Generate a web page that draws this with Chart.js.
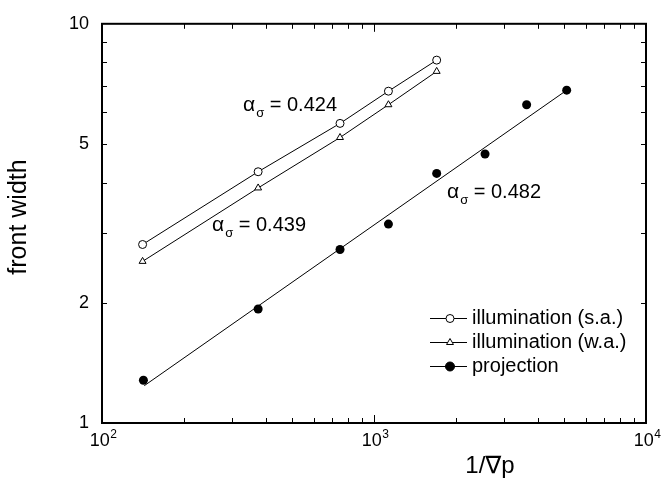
<!DOCTYPE html>
<html>
<head>
<meta charset="utf-8">
<script src="https://cdn.jsdelivr.net/npm/chart.js@4.4.0/dist/chart.umd.min.js"></script>
<style>
  html, body { margin: 0; background: #fff; }
  #wrap { width: 661px; height: 486px; position: relative; }
</style>
</head>
<body>
<div id="wrap"><canvas id="chart"></canvas></div>
<script>
// data (log-log axes)
const saX = [141, 375, 750, 1130, 1700];
const saWidth = [2.80, 4.26, 5.63, 6.78, 8.11];
const waX = [141, 375, 750, 1130, 1700];
const waWidth = [2.54, 3.88, 5.19, 6.27, 7.60];
const projX = [142, 375, 750, 1130, 1700, 2560, 3640, 5110];
const projWidth = [1.28, 1.93, 2.72, 3.15, 4.22, 4.72, 6.27, 6.82];
const projFitX = [143, 5130];
const projFitWidth = [1.24, 6.83];

const xDecades = [2, 3, 4];          // tick labels 10^2, 10^3, 10^4
const yTickLabels = [1, 2, 5, 10];
const legendLabels = ["illumination (s.a.)", "illumination (w.a.)", "projection"];
const slopeLabels = ["0.424", "0.439", "0.482"];

const FONT = "'Liberation Sans', Arial, 'DejaVu Sans', sans-serif";

function pts(xs, ys) {
  return xs.map(function (x, i) { return { x: x, y: ys[i] }; });
}

// frame, inward ticks, labels, legend and slope notes
const decorPlugin = {
  id: "decor",
  afterDraw: function (chart) {
    const ctx = chart.ctx;
    const a = chart.chartArea;
    const xs = chart.scales.x;
    const ys = chart.scales.y;
    ctx.save();
    ctx.strokeStyle = "#000";
    ctx.fillStyle = "#000";

    // frame
    ctx.lineWidth = 2;
    ctx.strokeRect(a.left, a.top, a.right - a.left, a.bottom - a.top);

    // inward ticks
    ctx.lineWidth = 1;
    ctx.beginPath();
    [100, 1000].forEach(function (d) {
      for (let k = 1; k <= 9; k++) {
        const px = Math.round(xs.getPixelForValue(d * k)) + 0.5;
        const len = k === 1 ? 8 : 5;
        ctx.moveTo(px, a.bottom); ctx.lineTo(px, a.bottom - len);
        ctx.moveTo(px, a.top); ctx.lineTo(px, a.top + len);
      }
    });
    for (let k = 1; k <= 9; k++) {
      const py = Math.round(ys.getPixelForValue(k)) + 0.5;
      const len = k === 1 ? 8 : 5;
      ctx.moveTo(a.left, py); ctx.lineTo(a.left + len, py);
      ctx.moveTo(a.right, py); ctx.lineTo(a.right - len, py);
    }
    ctx.stroke();

    // x tick labels 10^n
    ctx.textBaseline = "alphabetic";
    xDecades.forEach(function (e) {
      const px = xs.getPixelForValue(Math.pow(10, e));
      ctx.font = "18px " + FONT;
      const wb = ctx.measureText("10").width;
      ctx.font = "12px " + FONT;
      const we = ctx.measureText(String(e)).width;
      const x0 = px - (wb + we) / 2 + 1;
      ctx.font = "18px " + FONT;
      ctx.textAlign = "left";
      ctx.fillText("10", x0, a.bottom + 23);
      ctx.font = "12px " + FONT;
      ctx.fillText(String(e), x0 + wb + 0.5, a.bottom + 15);
    });

    // axis titles
    ctx.font = "24px " + FONT;
    ctx.textAlign = "center";
    ctx.textBaseline = "middle";
    ctx.fillText("1/\u2207p", 490, 466);
    ctx.save();
    ctx.translate(19, 217);
    ctx.rotate(-Math.PI / 2);
    ctx.font = "25px " + FONT;
    ctx.fillText("front width", 0, 0);
    ctx.restore();

    // slope notes
    const notes = [[243, 111], [212, 231], [447, 198]];
    notes.forEach(function (p, i) {
      let x = p[0];
      ctx.textAlign = "left";
      ctx.textBaseline = "alphabetic";
      ctx.font = "21px " + FONT;
      ctx.fillText("\u03b1", x, p[1]);
      x += ctx.measureText("\u03b1").width + 1;
      ctx.font = "13px " + FONT;
      ctx.fillText("\u03c3", x, p[1] + 6);
      x += ctx.measureText("\u03c3").width;
      ctx.font = "20px " + FONT;
      ctx.fillText(" = " + slopeLabels[i], x, p[1]);
    });

    // legend
    const rows = [318, 342, 366];
    const styles = [
      { pointStyle: "circle", radius: 4, fill: "#fff" },
      { pointStyle: "triangle", radius: 4, fill: "#fff" },
      { pointStyle: "circle", radius: 4.5, fill: "#000" }
    ];
    rows.forEach(function (y, i) {
      ctx.lineWidth = 1;
      ctx.strokeStyle = "#000";
      ctx.beginPath();
      ctx.moveTo(430, y + 0.5);
      ctx.lineTo(467, y + 0.5);
      ctx.stroke();
      ctx.fillStyle = styles[i].fill;
      Chart.helpers.drawPoint(ctx, {
        pointStyle: styles[i].pointStyle,
        radius: styles[i].radius,
        rotation: 0,
        borderWidth: 1
      }, 450, y + 0.5);
      ctx.fillStyle = "#000";
      ctx.font = "20px " + FONT;
      ctx.textAlign = "left";
      ctx.textBaseline = "middle";
      ctx.fillText(legendLabels[i], 472, y);
    });

    ctx.restore();
  }
};

new Chart(document.getElementById("chart"), {
  type: "scatter",
  data: {
    datasets: [
      {
        label: legendLabels[0],
        data: pts(saX, saWidth),
        showLine: true,
        borderColor: "#000",
        borderWidth: 1,
        pointStyle: "circle",
        pointRadius: 4,
        pointBackgroundColor: "#fff",
        pointBorderColor: "#000",
        pointBorderWidth: 1
      },
      {
        label: legendLabels[1],
        data: pts(waX, waWidth),
        showLine: true,
        borderColor: "#000",
        borderWidth: 1,
        pointStyle: "triangle",
        pointRadius: 4,
        pointBackgroundColor: "#fff",
        pointBorderColor: "#000",
        pointBorderWidth: 1
      },
      {
        label: legendLabels[2],
        data: pts(projX, projWidth),
        showLine: false,
        pointStyle: "circle",
        pointRadius: 4.5,
        pointBackgroundColor: "#000",
        pointBorderColor: "#000",
        pointBorderWidth: 0
      },
      {
        label: "projection fit",
        data: pts(projFitX, projFitWidth),
        showLine: true,
        borderColor: "#000",
        borderWidth: 1,
        pointRadius: 0
      }
    ]
  },
  options: {
    responsive: true,
    maintainAspectRatio: false,
    animation: false,
    layout: { padding: { top: 16, right: 15, left: 0, bottom: 0 } },
    plugins: {
      legend: { display: false },
      tooltip: { enabled: false }
    },
    scales: {
      x: {
        type: "logarithmic",
        min: 100,
        max: 10000,
        grid: { display: false },
        border: { display: false },
        ticks: { display: false },
        afterFit: function (scale) { scale.height = 63; }
      },
      y: {
        type: "logarithmic",
        min: 1,
        max: 10,
        grid: { display: false, drawTicks: false },
        border: { display: false },
        ticks: {
          autoSkip: false,
          padding: 13,
          color: "#000",
          font: { family: FONT, size: 18 },
          callback: function (v) {
            return yTickLabels.indexOf(v) >= 0 ? String(v) : "";
          }
        },
        afterFit: function (scale) { scale.width = 102; }
      }
    }
  },
  plugins: [decorPlugin]
});
</script>
</body>
</html>
